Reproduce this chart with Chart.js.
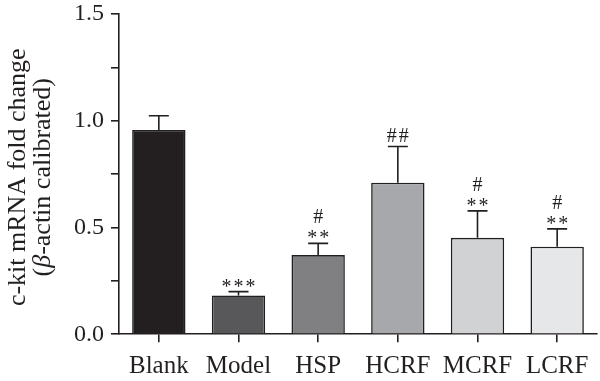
<!DOCTYPE html>
<html><head><meta charset="utf-8">
<script src="https://cdn.jsdelivr.net/npm/chart.js@4/dist/chart.umd.min.js"></script>
<style>html,body{margin:0;padding:0;background:#fff}#wrap{width:600px;height:381px}</style>
</head><body><div id="wrap"><canvas id="c"></canvas></div>
<script>
const categories = ['Blank', 'Model', 'HSP', 'HCRF', 'MCRF', 'LCRF'];
const means = [0.957, 0.182, 0.371, 0.710, 0.452, 0.410];
const errors = [0.067, 0.018, 0.055, 0.170, 0.126, 0.084];
const starMarks = ['', '***', '**', '', '**', '**'];
const hashMarks = ['', '', '#', '##', '#', '#'];
const yLabelledTicks = [0, 0.5, 1.0, 1.5];
const yTitleLine1 = 'c-kit mRNA fold change';
const yTitleLine2 = [['(', false], ['β', true], ['-actin calibrated)', false]];

const barColors = ['#231f20', '#58585a', '#808083', '#a7a8ab', '#d1d2d4', '#e6e7e8'];
const ink = '#231f20';
const serif = "'Liberation Serif', 'DejaVu Serif', serif";

const errorBarPlugin = {
  id: 'errorBars',
  afterDatasetsDraw(chart) {
    const ctx = chart.ctx;
    const meta = chart.getDatasetMeta(0);
    const y = chart.scales.y;
    ctx.save();
    ctx.strokeStyle = ink;
    ctx.lineWidth = 1.6;
    ctx.fillStyle = ink;
    ctx.font = '20px ' + serif;
    ctx.textAlign = 'center';
    ctx.textBaseline = 'alphabetic';
    meta.data.forEach((bar, i) => {
      const x = bar.x;
      const top = y.getPixelForValue(means[i]);
      const et = y.getPixelForValue(means[i] + errors[i]);
      ctx.beginPath();
      ctx.moveTo(x, top);
      ctx.lineTo(x, et);
      ctx.moveTo(x - 10, et);
      ctx.lineTo(x + 10, et);
      ctx.stroke();
      const drawSpaced = (s, baseY) => {
        const n = s.length, sp = 12;
        for (let k = 0; k < n; k++) {
          ctx.fillText(s[k], x + (k - (n - 1) / 2) * sp, baseY);
        }
      };
      let base = et;
      if (starMarks[i]) {
        drawSpaced(starMarks[i], base + 1);
        base -= 20;
      } else {
        base -= 4;
      }
      if (hashMarks[i]) drawSpaced(hashMarks[i], base);
    });
    ctx.restore();
  }
};

const yTitlePlugin = {
  id: 'yTitle',
  afterDraw(chart) {
    const ctx = chart.ctx;
    const ca = chart.chartArea;
    const cy = (ca.top + ca.bottom) / 2 + 3;
    const normal = '26px ' + serif;
    const italic = 'italic 26px ' + serif;
    ctx.save();
    ctx.fillStyle = ink;
    ctx.textBaseline = 'alphabetic';
    ctx.textAlign = 'left';
    ctx.save();
    ctx.translate(25, cy);
    ctx.rotate(-Math.PI / 2);
    ctx.font = normal;
    const w1 = ctx.measureText(yTitleLine1).width;
    ctx.fillText(yTitleLine1, -w1 / 2, 0);
    ctx.restore();
    ctx.save();
    ctx.translate(50, cy);
    ctx.rotate(-Math.PI / 2);
    let total = 0;
    const widths = yTitleLine2.map(([t, it]) => {
      ctx.font = it ? italic : normal;
      const w = ctx.measureText(t).width;
      total += w;
      return w;
    });
    let xx = -total / 2;
    yTitleLine2.forEach(([t, it], k) => {
      ctx.font = it ? italic : normal;
      ctx.fillText(t, xx, 0);
      xx += widths[k];
    });
    ctx.restore();
    ctx.restore();
  }
};

new Chart(document.getElementById('c'), {
  type: 'bar',
  data: {
    labels: categories,
    datasets: [{
      data: means,
      backgroundColor: barColors,
      borderColor: ink,
      borderWidth: 1.6,
      borderSkipped: 'bottom',
      barPercentage: 0.67,
      categoryPercentage: 1.0
    }]
  },
  options: {
    responsive: true,
    maintainAspectRatio: false,
    animation: false,
    layout: { padding: { left: 67, right: 3, top: 0, bottom: -9.5 } },
    plugins: { legend: { display: false }, tooltip: { enabled: false } },
    scales: {
      x: {
        grid: { display: true, drawOnChartArea: false, offset: false, tickLength: 8, color: ink, lineWidth: 1.6 },
        border: { display: true, color: ink, width: 1.6 },
        ticks: { color: ink, font: { family: serif, size: 25, lineHeight: 1.05 }, padding: 11, maxRotation: 0, autoSkip: false }
      },
      y: {
        min: 0, max: 1.5,
        grid: { display: true, drawOnChartArea: false, tickLength: 8, color: ink, lineWidth: 1.6 },
        border: { display: true, color: ink, width: 1.6 },
        ticks: {
          stepSize: 0.25,
          color: ink,
          font: { family: serif, size: 24, lineHeight: 0.6 },
          padding: 7,
          callback: (v) => yLabelledTicks.some(t => Math.abs(t - v) < 1e-9) ? v.toFixed(1) : ''
        },
        title: { display: false }
      }
    }
  },
  plugins: [errorBarPlugin, yTitlePlugin]
});
</script></body></html>
